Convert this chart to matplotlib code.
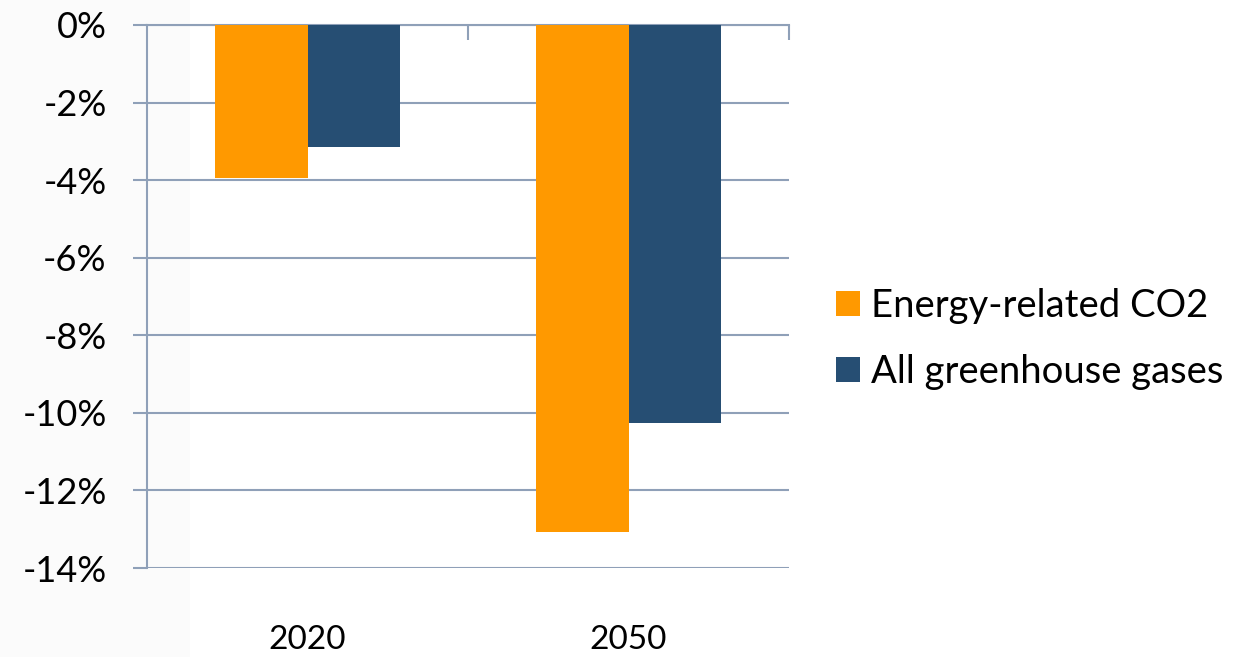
import matplotlib
matplotlib.use('Agg')

import matplotlib.pyplot as plt
from matplotlib.patches import Rectangle
from matplotlib.ticker import FixedLocator

# Data
years = ['2020', '2050']
energy_co2 = [-3.95, -13.08]
all_ghg = [-3.15, -10.27]
series_names = ['Energy-related CO2', 'All greenhouse gases']
y_ticks = [0, -2, -4, -6, -8, -10, -12, -14]

ORANGE = '#FF9900'
NAVY = '#264E73'
GRID = '#8FA0B8'

plt.rcParams['font.family'] = ['Lato', 'DejaVu Sans']

fig = plt.figure(figsize=(12.45, 6.57), dpi=100)
fig.patches.append(Rectangle((0, 0), 190 / 1245, 1, transform=fig.transFigure,
                             facecolor='#FBFBFB', edgecolor='none', zorder=-5))

ax = fig.add_axes([147 / 1245, 1 - 568 / 657, (789 - 147) / 1245, (568 - 25) / 657])
ax.patch.set_alpha(0)

width = 0.287
centers = [0.5 + i for i in range(len(years))]
ax.bar([c - width / 2 for c in centers], energy_co2, width, color=ORANGE,
       label=series_names[0], zorder=3)
ax.bar([c + width / 2 for c in centers], all_ghg, width, color=NAVY,
       label=series_names[1], zorder=3)

ax.set_xlim(0, len(years))
ax.set_ylim(-14, 0)

# y axis
ax.set_yticks(y_ticks)
ax.set_yticklabels([f'{v}%' for v in y_ticks])
ax.yaxis.grid(True, color=GRID, linewidth=1.5, zorder=1)
ax.tick_params(axis='y', direction='out', length=10, width=1.5, color=GRID,
               pad=19, labelsize=26)

# x axis: category boundary ticks on the zero line, labels low
ax.xaxis.set_major_locator(FixedLocator([1, 2]))
ax.xaxis.set_minor_locator(FixedLocator(centers))
ax.set_xticklabels(years, minor=True)
ax.tick_params(axis='x', which='major', top=True, bottom=False, labelbottom=False,
               direction='in', length=11, width=1.5, color=GRID)
ax.tick_params(axis='x', which='minor', length=0, pad=41, labelsize=24)

for side in ['right', 'bottom']:
    ax.spines[side].set_visible(False)
ax.spines['left'].set_color(GRID)
ax.spines['left'].set_linewidth(1.5)
ax.spines['top'].set_color(GRID)
ax.spines['top'].set_linewidth(1.5)
ax.set_axisbelow(True)

leg = fig.legend(loc='center left', bbox_to_anchor=(821 / 1245, 1 - 339 / 657),
                 frameon=False, fontsize=27.5, handlelength=0.62, handleheight=0.62,
                 handletextpad=0.3, labelspacing=0.78, borderaxespad=0)

fig.savefig('out.png', dpi=100)
